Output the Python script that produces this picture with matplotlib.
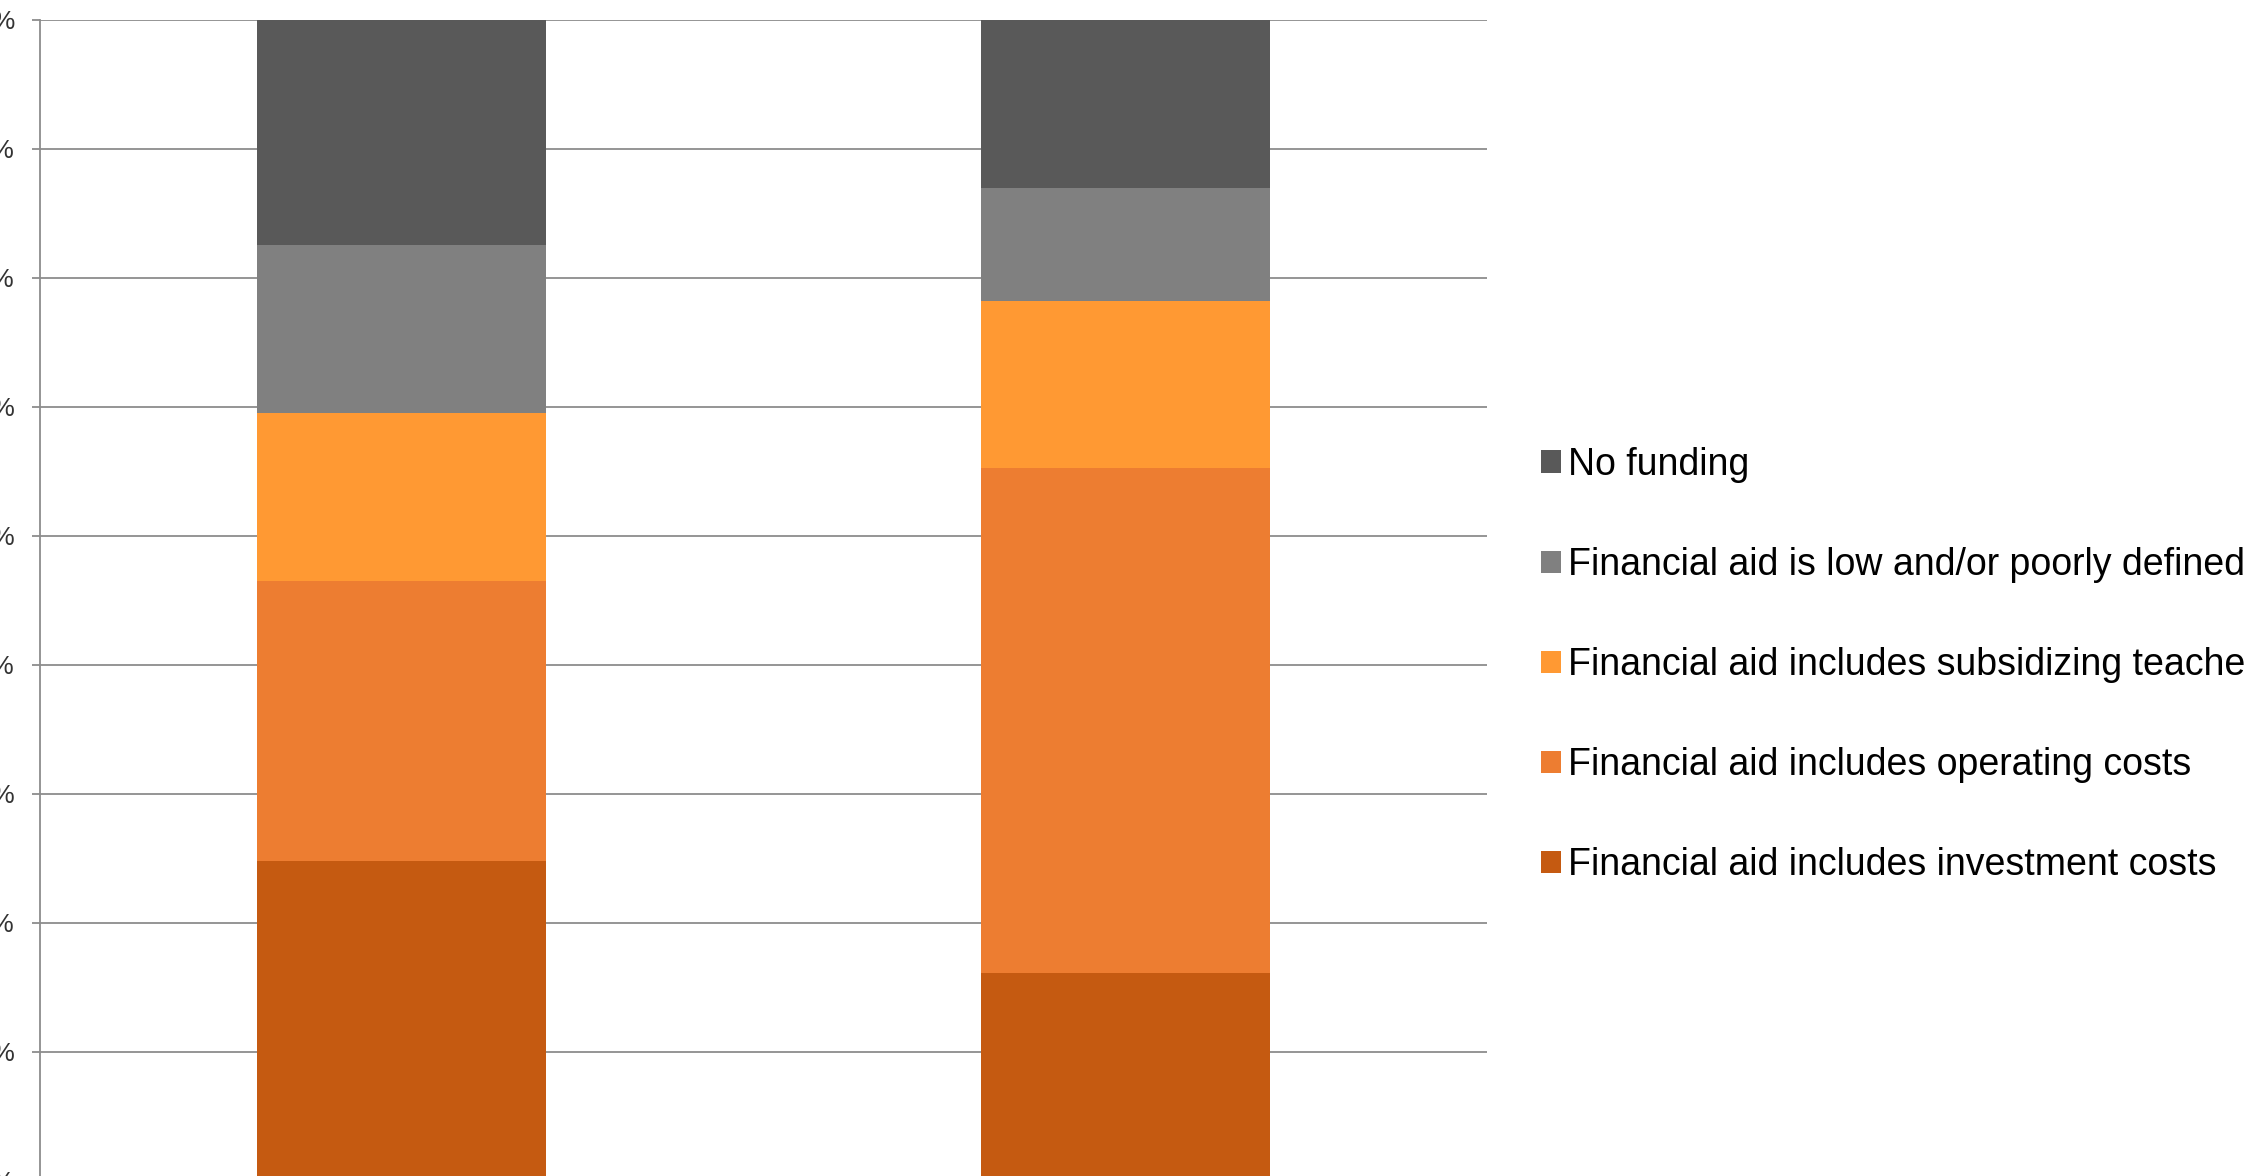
import numpy as np
import matplotlib
matplotlib.use("Agg")
import matplotlib.pyplot as plt
from matplotlib.ticker import PercentFormatter

# share of cases per funding type (%), two groups, bottom -> top
series = [
    "Financial aid includes investment costs",
    "Financial aid includes operating costs",
    "Financial aid includes subsidizing teachers",
    "Financial aid is low and/or poorly defined",
    "No funding",
]
investment = [34.8, 26.1]
operating = [21.7, 39.1]
teachers = [13.0, 13.0]
low_aid = [13.0, 8.7]
no_funding = [17.5, 13.1]
colors = ["#c55a11", "#ed7d31", "#ff9933", "#808080", "#595959"]

values = [investment, operating, teachers, low_aid, no_funding]
x = np.arange(len(investment))

plt.rcParams["font.family"] = ["Liberation Sans", "DejaVu Sans"]

fig = plt.figure(figsize=(22.46, 11.76), dpi=100)
# axes runs past the bottom edge, like the cropped original
ax = fig.add_axes([40 / 2246, -133.5 / 1176, 1447 / 2246, 1290 / 1176])

bottom = np.zeros(len(x))
bars = []
for vals, lab, col in zip(values, series, colors):
    b = ax.bar(x, vals, width=0.4, bottom=bottom, color=col, label=lab,
               linewidth=0, zorder=3)
    bars.append(b)
    bottom += np.array(vals)

ax.set_xlim(-0.5, 1.5)
ax.set_ylim(0, 100)
ax.set_yticks(np.arange(0, 101, 10))
ax.yaxis.set_major_formatter(PercentFormatter(decimals=0))
ax.set_xticks([])

ax.grid(axis="y", color="#8c8c8c", linewidth=1.3, zorder=0)
for s in ["top", "right", "bottom"]:
    ax.spines[s].set_visible(False)
ax.spines["left"].set_color("#8c8c8c")
ax.spines["left"].set_linewidth(1.3)
ax.tick_params(axis="y", length=6, width=1.3, color="#8c8c8c",
               pad=12, labelsize=19, labelcolor="#333333")

leg = ax.legend(bars[::-1], series[::-1], loc="center left",
                bbox_to_anchor=(1541 / 2246, 511 / 1176),
                bbox_transform=fig.transFigure, frameon=False,
                fontsize=27, handlelength=0.53, handleheight=0.53,
                handletextpad=0.2, labelspacing=1.71, borderpad=0,
                borderaxespad=0)

fig.savefig("out.png", dpi=100)
